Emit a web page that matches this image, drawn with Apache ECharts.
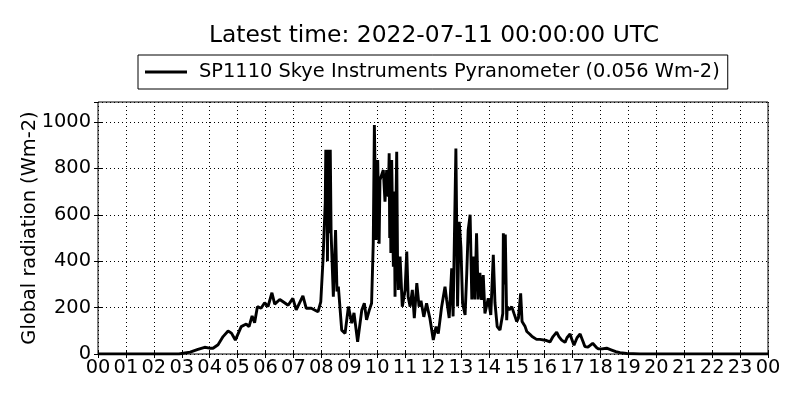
<!DOCTYPE html>
<html>
<head>
<meta charset="utf-8">
<script src="https://cdn.jsdelivr.net/npm/echarts@6/dist/echarts.min.js"></script>
<style>html,body{margin:0;padding:0;background:#fff}#c{width:800px;height:400px}</style>
</head>
<body>
<div id="c"></div>
<script>
const titleText = "Latest time: 2022-07-11 00:00:00 UTC";
const seriesName = "SP1110 Skye Instruments Pyranometer (0.056 Wm-2)";
const yAxisName = "Global radiation (Wm-2)";
const hourTicks = ["00","01","02","03","04","05","06","07","08","09","10","11","12","13","14","15","16","17","18","19","20","21","22","23","00"];

const hours = [0,1,2,2.9,3.0,3.3,3.58,3.82,4.0,4.12,4.3,4.48,4.66,4.78,4.92,5.13,5.31,5.41,5.52,5.61,5.71,5.84,5.97,6.09,6.23,6.33,6.51,6.63,6.81,6.98,7.10,7.34,7.46,7.64,7.88,7.98,8.06,8.11,8.14,8.16,8.18,8.20,8.22,8.24,8.26,8.28,8.30,8.32,8.35,8.43,8.51,8.56,8.61,8.73,8.85,8.97,9.09,9.17,9.30,9.45,9.54,9.62,9.72,9.80,9.86,9.90,9.96,10.02,10.07,10.10,10.22,10.28,10.34,10.40,10.43,10.45,10.47,10.49,10.52,10.55,10.58,10.61,10.64,10.67,10.70,10.73,10.76,10.82,10.90,11.00,11.06,11.11,11.18,11.26,11.33,11.42,11.50,11.57,11.67,11.77,11.89,12.01,12.11,12.19,12.31,12.43,12.49,12.58,12.67,12.72,12.82,12.88,12.94,13.00,13.06,13.15,13.21,13.26,13.33,13.39,13.44,13.50,13.56,13.62,13.68,13.74,13.80,13.86,13.98,14.07,14.16,14.22,14.30,14.40,14.50,14.52,14.55,14.59,14.64,14.66,14.73,14.82,14.90,15.00,15.06,15.14,15.19,15.30,15.36,15.47,15.55,15.71,15.83,16.07,16.19,16.30,16.43,16.51,16.61,16.73,16.80,16.91,16.98,17.05,17.16,17.27,17.37,17.44,17.55,17.72,17.84,17.92,18.05,18.22,18.40,18.55,18.70,18.94,19.41,20,21,22,23,24];
const radiation = [0,0,0,0,2,8,20,29,25,25,40,75,99,90,60,118,129,118,164,135,204,197,221,204,264,215,235,225,210,240,190,250,197,197,182,225,405,560,650,880,600,880,400,880,520,880,700,880,520,247,534,270,290,103,89,204,133,177,53,190,219,147,190,219,478,987,491,836,475,750,793,656,793,678,865,500,820,435,836,600,376,700,247,600,872,400,276,420,204,276,441,247,204,276,154,305,204,230,160,218,153,60,118,88,204,290,233,155,369,162,886,205,570,460,218,168,350,534,600,235,420,235,520,235,350,233,340,175,240,168,427,220,118,103,175,520,300,515,146,204,190,204,175,140,155,261,140,118,97,85,75,63,63,58,52,75,94,75,60,50,70,86,60,38,70,86,55,32,30,46,30,22,22,25,17,10,6,2,0,0,0,0,0,0];

const points = hours.map((h, i) => [h, radiation[i]]);
const FONT = 'DejaVu Sans';

const chart = echarts.init(document.getElementById('c'), null, {renderer: 'canvas'});
chart.setOption({
  animation: false,
  backgroundColor: '#fff',
  textStyle: {fontFamily: FONT, color: '#000'},
  title: {
    text: titleText,
    left: 429, top: 19, textAlign: 'center',
    textStyle: {fontFamily: FONT, fontSize: 23.4, fontWeight: 'normal', color: '#000'}
  },
  legend: {
    data: [{name: seriesName, icon: 'rect'}],
    left: 138, top: 55,
    padding: [7, 8, 7, 7],
    borderColor: '#000', borderWidth: 1, borderRadius: 0,
    itemWidth: 42, itemHeight: 3,
    itemStyle: {color: '#000'},
    textStyle: {fontFamily: FONT, fontSize: 19.4, color: '#000', padding: [0, 0, 0, 7], lineHeight: 20}
  },
  graphic: [{
    type: 'text',
    x: 30, y: 228, rotation: Math.PI / 2,
    style: {text: yAxisName, fontFamily: FONT, fontSize: 19.4, fill: '#000', align: 'center', verticalAlign: 'middle'}
  }],
  grid: {left: 98, right: 32, top: 102, bottom: 46, show: true, borderColor: '#000', borderWidth: 1},
  xAxis: [{
    type: 'value', min: 0, max: 24, interval: 1,
    axisLine: {show: false},
    axisTick: {show: true, inside: true, length: 4, lineStyle: {color: '#000'}},
    axisLabel: {margin: 4, fontFamily: FONT, fontSize: 19.4, color: '#000',
      formatter: v => hourTicks[Math.round(v)]},
    splitLine: {show: true, lineStyle: {color: '#000', type: [1, 3], width: 1}}
  }, {
    type: 'value', min: 0, max: 24, interval: 1, position: 'top',
    axisLine: {show: false}, axisLabel: {show: false}, splitLine: {show: false},
    axisTick: {show: true, inside: true, length: 4, lineStyle: {color: '#000'}}
  }],
  yAxis: [{
    type: 'value', min: 0, max: 1086, interval: 200,
    axisLine: {show: false},
    axisTick: {show: true, inside: true, length: 4, lineStyle: {color: '#000'}},
    axisLabel: {margin: 7, fontFamily: FONT, fontSize: 19.4, color: '#000', showMaxLabel: false,
      formatter: v => (v > 1000 ? '' : String(v))},
    splitLine: {show: true, lineStyle: {color: '#000', type: [1, 3], width: 1}}
  }, {
    type: 'value', min: 0, max: 1086, interval: 200, position: 'right',
    axisLine: {show: false}, axisLabel: {show: false}, splitLine: {show: false},
    axisTick: {show: true, inside: true, length: 4, lineStyle: {color: '#000'}}
  }],
  series: [{
    name: seriesName,
    type: 'line',
    data: points,
    symbol: 'none',
    lineStyle: {color: '#000', width: 2.9},
    itemStyle: {color: '#000'}
  }]
});
</script>
</body>
</html>
